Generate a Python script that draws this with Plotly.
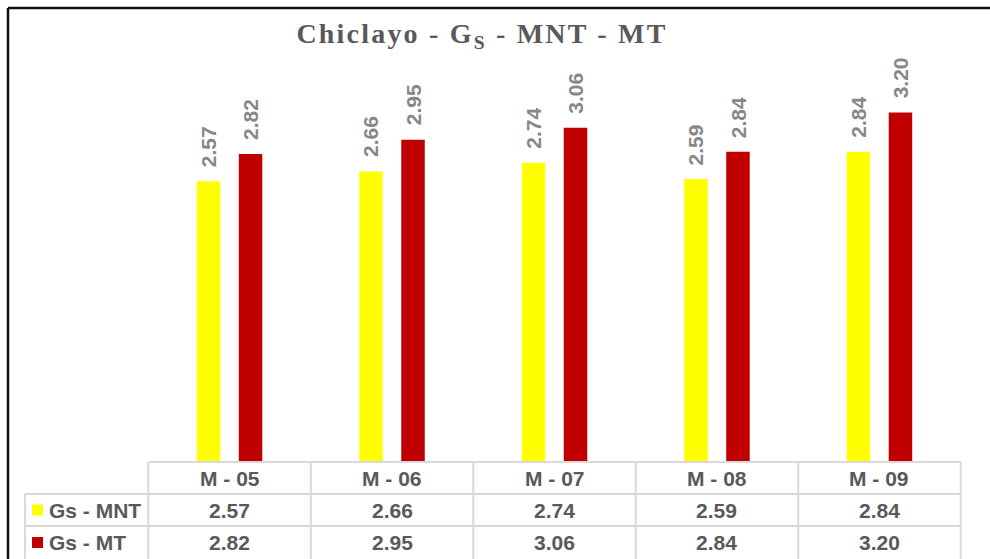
import plotly.graph_objects as go

W, H = 990, 559

# ---- data ----
categories = ["M - 05", "M - 06", "M - 07", "M - 08", "M - 09"]
gs_mnt = [2.57, 2.66, 2.74, 2.59, 2.84]
gs_mt = [2.82, 2.95, 3.06, 2.84, 3.20]
series_names = ["Gs - MNT", "Gs - MT"]
series_values = [gs_mnt, gs_mt]
series_colors = ["#FFFF00", "#C00000"]

# ---- geometry (pixels) ----
tbl_left, tbl_right = 148.3, 960.7
key_left = 25
base_y = 462
row_edges = [462, 494, 526, 559]
plot_top = 79.6
col_w = (tbl_right - tbl_left) / len(categories)
bar_px = 23.5
bar_shift_px = 21

TEXT = "#595959"
LABEL = "#878787"
GRID = "#D9D9D9"
SANS = "Liberation Sans, Arial, sans-serif"
SERIF = "Liberation Serif, Times New Roman, serif"


def fx(p):
    return p / W


def fy(p):
    return 1 - p / H


bar_w = bar_px / col_w
fig = go.Figure()
for i, (name, vals, color) in enumerate(zip(series_names, series_values, series_colors)):
    centre = (-1 if i == 0 else 1) * bar_shift_px / col_w
    fig.add_trace(go.Bar(
        x=categories, y=vals, name=name,
        marker=dict(color=color, line=dict(width=0)),
        width=bar_w, offset=centre - bar_w / 2,
        hoverinfo="x+y+name",
    ))

annotations = []
# rotated value labels above each bar
for i, vals in enumerate(series_values):
    sx = (-1 if i == 0 else 1) * bar_shift_px
    for cat, v in zip(categories, vals):
        annotations.append(dict(
            x=cat, y=v, xref="x", yref="y", text=f"<b>{v:.2f}</b>",
            showarrow=False, textangle=-90, xanchor="center", yanchor="bottom",
            xshift=sx, yshift=12,
            font=dict(family=SANS, size=21, color=LABEL),
        ))

# data table: header row with categories
for j, cat in enumerate(categories):
    cx = tbl_left + col_w * (j + 0.5)
    annotations.append(dict(
        x=fx(cx), y=fy((row_edges[0] + row_edges[1]) / 2), xref="paper", yref="paper",
        text=f"<b>{cat}</b>", showarrow=False, xanchor="center", yanchor="middle",
        font=dict(family=SANS, size=21, color=TEXT),
    ))
# data table: value rows
for i, (name, vals) in enumerate(zip(series_names, series_values)):
    ry = (row_edges[i + 1] + row_edges[i + 2]) / 2
    annotations.append(dict(
        x=fx(47), y=fy(ry), xref="paper", yref="paper",
        text=f"<b>{name}</b>", showarrow=False, xanchor="left", yanchor="middle",
        font=dict(family=SANS, size=21, color=TEXT),
    ))
    for j, v in enumerate(vals):
        cx = tbl_left + col_w * (j + 0.5)
        annotations.append(dict(
            x=fx(cx), y=fy(ry), xref="paper", yref="paper",
            text=f"<b>{v:.2f}</b>", showarrow=False, xanchor="center", yanchor="middle",
            font=dict(family=SANS, size=21, color=TEXT),
        ))

shapes = []


def line(x0, y0, x1, y1, color=GRID, width=2):
    shapes.append(dict(type="line", xref="paper", yref="paper",
                       x0=fx(x0), y0=fy(y0), x1=fx(x1), y1=fy(y1),
                       line=dict(color=color, width=width), layer="above"))


# table grid
line(tbl_left, row_edges[0], tbl_right, row_edges[0])
for r in row_edges[1:3]:
    line(key_left, r, tbl_right, r)
line(key_left, row_edges[1], key_left, row_edges[3])
for j in range(len(categories) + 1):
    x = tbl_left + col_w * j
    line(x, row_edges[0], x, row_edges[3])

# legend keys inside the table
for i, color in enumerate(series_colors):
    ry = (row_edges[i + 1] + row_edges[i + 2]) / 2
    shapes.append(dict(type="rect", xref="paper", yref="paper",
                       x0=fx(32), x1=fx(43), y0=fy(ry - 5.5), y1=fy(ry + 5.5),
                       fillcolor=color, line=dict(width=0), layer="above"))

# chart frame
line(8, 8, W + 2, 8, color="#111111", width=2.5)
line(8, 8, 8, H + 2, color="#111111", width=2.5)

fig.update_layout(
    width=W, height=H,
    margin=dict(l=0, r=0, t=0, b=0),
    paper_bgcolor="white", plot_bgcolor="white",
    showlegend=False,
    title=dict(
        text="<b>Chiclayo - G<sub>S</sub> - MNT - MT</b>",
        x=fx(482), xanchor="center", y=fy(33), yanchor="middle",
        font=dict(family=SERIF, size=28, color=TEXT),
    ),
    xaxis=dict(domain=[fx(tbl_left), fx(tbl_right)], range=[-0.5, len(categories) - 0.5],
               showticklabels=False, ticks="", showgrid=False, zeroline=False,
               showline=False, fixedrange=True),
    yaxis=dict(domain=[fy(base_y), fy(plot_top)], range=[0, 3.5],
               showticklabels=False, ticks="", showgrid=False, zeroline=False,
               showline=False, fixedrange=True),
    annotations=annotations,
    shapes=shapes,
)

# widen the title's letter spacing
post = """
var t = document.querySelector('.gtitle');
if (t) { t.style.letterSpacing = '2.2px'; }
"""
fig.write_html("out.html", post_script=post)
